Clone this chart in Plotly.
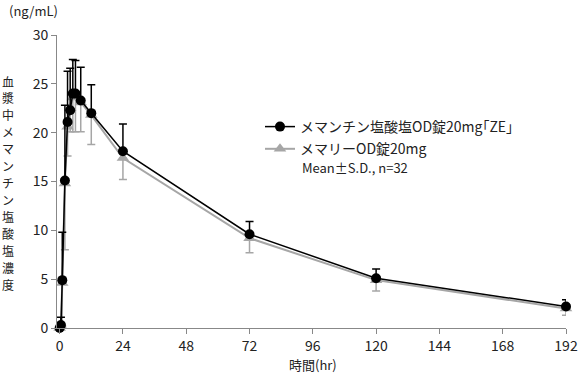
import plotly.graph_objects as go

time_hr = [0, 0.5, 1, 2, 3, 4, 5, 6, 8, 12, 24, 72, 120, 192]
ze_mean = [0.0, 0.3, 4.9, 15.1, 21.1, 22.3, 24.0, 24.0, 23.3, 22.0, 18.1, 9.6, 5.1, 2.2]
ze_sd = [0.0, 0.8, 4.9, 7.7, 5.2, 4.3, 3.5, 3.4, 3.4, 2.9, 2.8, 1.3, 0.95, 0.7]
ref_mean = [0.0, 0.2, 4.6, 14.8, 20.6, 22.5, 23.6, 23.7, 23.1, 21.8, 17.4, 9.2, 4.9, 2.0]
ref_sd = [0.0, 0.3, 4.4, 6.8, 3.0, 2.4, 3.5, 3.6, 3.0, 3.0, 2.2, 1.5, 1.1, 0.7]
zeros = [0] * len(time_hr)

x_ticks = [0, 24, 48, 72, 96, 120, 144, 168, 192]
y_ticks = [0, 5, 10, 15, 20, 25, 30]

name_ze = "メマンチン塩酸塩OD錠20mg｢ZE｣"
name_ref = "メマリーOD錠20mg"
y_title = "血漿中メマンチン塩酸塩濃度"
x_title = "時間(hr)"

FONT = "Noto Sans CJK JP"
GRAY = "#a6a6a6"

L, R, T, B = 57, 12, 35, 51
W, H = 578, 379
plot_w = W - L - R
plot_h = H - T - B

def px_x(px):
    return (px - L) / plot_w

def px_y(py):
    return (H - B - py) / plot_h

fig = go.Figure()
fig.add_trace(go.Scatter(
    x=time_hr, y=ref_mean, name=name_ref, mode="lines+markers",
    legendgroup="ref", legendrank=2,
    line=dict(color=GRAY, width=2),
    marker=dict(symbol="triangle-up", size=11, color=GRAY),
    error_y=dict(type="data", symmetric=False, array=zeros, arrayminus=ref_sd,
                 color=GRAY, thickness=1.5, width=4),
    cliponaxis=False,
))
fig.add_trace(go.Scatter(
    x=time_hr, y=ze_mean, name=name_ze, mode="lines+markers",
    legendgroup="ze", legendrank=1,
    line=dict(color="black", width=1.5),
    marker=dict(symbol="circle", size=10, color="black"),
    error_y=dict(type="data", symmetric=False, array=ze_sd, arrayminus=zeros,
                 color="black", thickness=1.5, width=4),
    cliponaxis=False,
))

annotations = [
    dict(text="(ng/mL)", x=px_x(33), y=px_y(10), xref="paper", yref="paper",
         showarrow=False, font=dict(size=13), xanchor="center", yanchor="middle"),
    dict(text="Mean±S.D., n=32", x=px_x(300), y=px_y(167), xref="paper", yref="paper",
         showarrow=False, font=dict(size=13), xanchor="left", yanchor="middle"),
    dict(text=x_title, x=px_x(313), y=px_y(364), xref="paper", yref="paper",
         showarrow=False, font=dict(size=13), xanchor="center", yanchor="middle",
         borderpad=0),
]
# vertical (stacked) y-axis title, one character per line position
n = len(y_title)
top_px, bottom_px = 81, 284
for i, ch in enumerate(y_title):
    py = top_px + (bottom_px - top_px) * i / (n - 1)
    annotations.append(dict(text=ch, x=px_x(8), y=px_y(py), xref="paper", yref="paper",
                            showarrow=False, font=dict(size=12), borderpad=0,
                            xanchor="center", yanchor="middle"))

fig.update_layout(
    width=W, height=H,
    margin=dict(l=L, r=R, t=T, b=B, autoexpand=False),
    paper_bgcolor="white", plot_bgcolor="white",
    font=dict(family=FONT, size=14, color="#222"),
    showlegend=True,
    legend=dict(x=px_x(260), y=px_y(111), xanchor="left", yanchor="top",
                traceorder="grouped", bgcolor="rgba(0,0,0,0)",
                font=dict(size=14), itemwidth=30, tracegroupgap=1),
    xaxis=dict(range=[-1, 192], tickvals=x_ticks, ticktext=[str(v) for v in x_ticks],
               showgrid=False, zeroline=False, showline=True, linecolor="#888",
               linewidth=1, ticks="outside", ticklen=5, tickcolor="#888",
               automargin=False, tickfont=dict(size=14)),
    yaxis=dict(range=[0, 30], tickvals=y_ticks, ticktext=[str(v) for v in y_ticks],
               showgrid=False, zeroline=False, showline=True, linecolor="#888",
               linewidth=1, ticks="outside", ticklen=5, tickcolor="#888",
               automargin=False, tickfont=dict(size=14)),
    annotations=annotations,
)

fig.write_html("out.html", config={"displayModeBar": False},
               post_script="document.body.style.margin='0px';")
